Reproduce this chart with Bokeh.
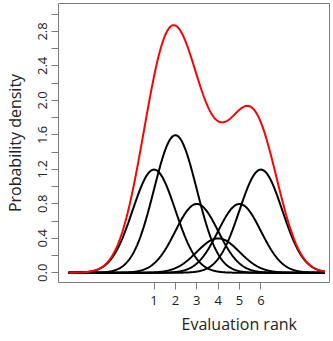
import numpy as np
from bokeh.plotting import figure
from bokeh.models import FixedTicker, PrintfTickFormatter, Title, Range1d
from bokeh.embed import file_html
from bokeh.resources import INLINE

# Mixture components (normal densities): means, weights, common sd
means = [1, 2, 3, 4, 5, 6]
weights = [3, 4, 2, 1, 2, 3]
sd = 1.0
x_domain = [-3, 9]

x_tick_values = [1, 2, 3, 4, 5, 6]
y_major_ticks = [0.0, 0.4, 0.8, 1.2, 1.6, 2.0, 2.4, 2.8]
y_minor_ticks = [0.2, 0.6, 1.0, 1.4, 1.8, 2.2, 2.6, 3.0]

x_label = "Evaluation rank"
y_label = "Probability density"

xs = np.linspace(x_domain[0], x_domain[1], 600)


def dnorm(x, m, s):
    return np.exp(-0.5 * ((x - m) / s) ** 2) / (s * np.sqrt(2 * np.pi))


components = [w * dnorm(xs, m, sd) for m, w in zip(means, weights)]
total = np.sum(components, axis=0)

FONT = "Open Sans"
GRAY = "#7a7a7a"
TXT = "#222222"

p = figure(width=333, height=341, output_backend="svg", toolbar_location=None,
           x_range=Range1d(-3.47, 9.21), y_range=Range1d(-0.113, 3.124),
           min_border_left=57, min_border_right=4, min_border_top=3,
           min_border_bottom=59)

p.grid.visible = False
p.outline_line_color = GRAY
p.outline_line_width = 1
p.background_fill_color = "white"
p.border_fill_color = "white"

for comp in components:
    p.line(xs, comp, line_color="black", line_width=2)
p.line(xs, total, line_color="red", line_width=2)

# X axis
xa = p.xaxis[0]
xa.ticker = FixedTicker(ticks=x_tick_values)
xa.axis_line_color = None
xa.major_tick_line_color = GRAY
xa.major_tick_in = 0
xa.major_tick_out = 7
xa.minor_tick_line_color = None
xa.major_label_text_font = FONT
xa.major_label_text_font_size = "13px"
xa.major_label_text_color = TXT
xa.major_label_standoff = 6

# Y axis
ya = p.yaxis[0]
ya.ticker = FixedTicker(ticks=y_major_ticks, minor_ticks=y_minor_ticks)
ya.formatter = PrintfTickFormatter(format="%.1f")
ya.axis_line_color = None
ya.major_tick_line_color = GRAY
ya.major_tick_in = 0
ya.major_tick_out = 7
ya.minor_tick_line_color = GRAY
ya.minor_tick_in = 0
ya.minor_tick_out = 7
ya.major_label_orientation = "vertical"
ya.major_label_text_font = FONT
ya.major_label_text_font_size = "13px"
ya.major_label_text_color = TXT
ya.major_label_standoff = 4
ya.axis_label = y_label
ya.axis_label_text_font = FONT
ya.axis_label_text_font_size = "16px"
ya.axis_label_text_font_style = "normal"
ya.axis_label_text_color = TXT
ya.axis_label_standoff = 10

p.add_layout(Title(text=x_label, align="left", offset=123,
                   text_font=FONT, text_font_size="16px",
                   text_font_style="normal", text_color=TXT,
                   standoff=6), "below")

open("out.html", "w").write(file_html(p, INLINE))
